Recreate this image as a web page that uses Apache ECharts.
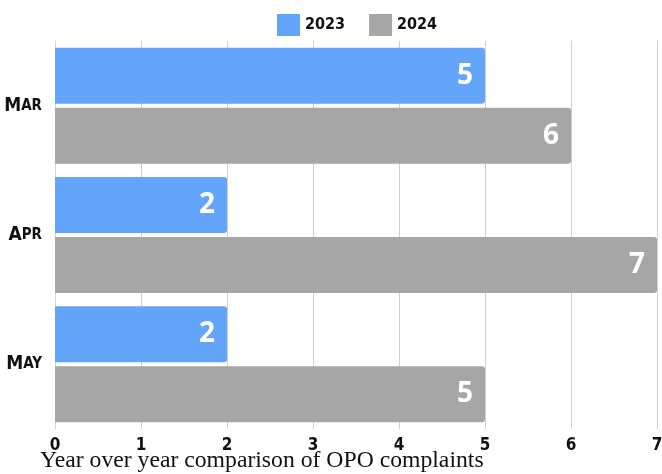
<!DOCTYPE html>
<html>
<head>
<meta charset="utf-8">
<script src="https://cdn.jsdelivr.net/npm/echarts@6/dist/echarts.min.js"></script>
<style>
html, body { margin: 0; padding: 0; background: #fff; }
#main { width: 662px; height: 474px; }
</style>
</head>
<body>
<div id="main"></div>
<script>
// data
const months = ['Mar', 'Apr', 'May'];
const values2023 = [5, 2, 2];
const values2024 = [6, 7, 5];
const xTicks = [0, 1, 2, 3, 4, 5, 6, 7];

const condensed = '"DejaVu Sans Condensed", "DejaVu Sans", sans-serif';

const chart = echarts.init(document.getElementById('main'));

// label style for the white value labels inside the bars
const valueLabel = {
    show: true,
    position: 'insideRight',
    distance: 12,
    color: '#fff',
    fontSize: 28,
    fontWeight: 'bold',
    fontFamily: '"Open Sans", sans-serif'
};

const option = {
    animation: false,
    title: {
        text: 'Year over year comparison of OPO complaints',
        left: 35,
        top: 444,
        textStyle: {
            fontFamily: '"Liberation Serif", serif',
            fontWeight: 'normal',
            fontSize: 23.7,
            color: '#111'
        }
    },
    legend: {
        top: 9,
        left: 272,
        icon: 'rect',
        itemWidth: 23,
        itemHeight: 22,
        itemGap: 24,
        textStyle: {
            fontFamily: condensed,
            fontWeight: 'bold',
            fontSize: 16,
            color: '#111'
        },
        data: ['2023', '2024']
    },
    grid: {
        left: 55,
        right: 5,
        top: 41,
        height: 388,
        outerBoundsMode: 'none'
    },
    xAxis: {
        type: 'value',
        min: 0,
        max: xTicks[xTicks.length - 1],
        interval: 1,
        axisLine: { show: false },
        axisTick: { show: false },
        splitLine: { lineStyle: { color: '#cfcfcf' } },
        axisLabel: {
            margin: 8,
            color: '#111',
            fontFamily: condensed,
            fontWeight: 'bold',
            fontSize: 17,
            formatter: v => String(v)
        }
    },
    yAxis: {
        type: 'category',
        inverse: true,
        data: months,
        axisLine: { lineStyle: { color: '#d6d6d6' } },
        axisTick: { show: false },
        axisLabel: {
            margin: 13,
            formatter: v => '{a|' + v.charAt(0).toUpperCase() + '}{b|' + v.slice(1).toUpperCase() + '}',
            rich: {
                a: { fontFamily: condensed, fontWeight: 'bold', fontSize: 19, color: '#111' },
                b: { fontFamily: condensed, fontWeight: 'bold', fontSize: 15, color: '#111' }
            }
        }
    },
    series: [
        {
            name: '2023',
            type: 'bar',
            data: values2023,
            barWidth: 56,
            barGap: '7%',
            itemStyle: { color: '#63a5fa', borderRadius: [0, 3, 3, 0] },
            label: valueLabel
        },
        {
            name: '2024',
            type: 'bar',
            data: values2024,
            barWidth: 56,
            itemStyle: { color: '#a6a6a6', borderRadius: [0, 3, 3, 0] },
            label: valueLabel
        }
    ]
};

chart.setOption(option);
</script>
</body>
</html>
